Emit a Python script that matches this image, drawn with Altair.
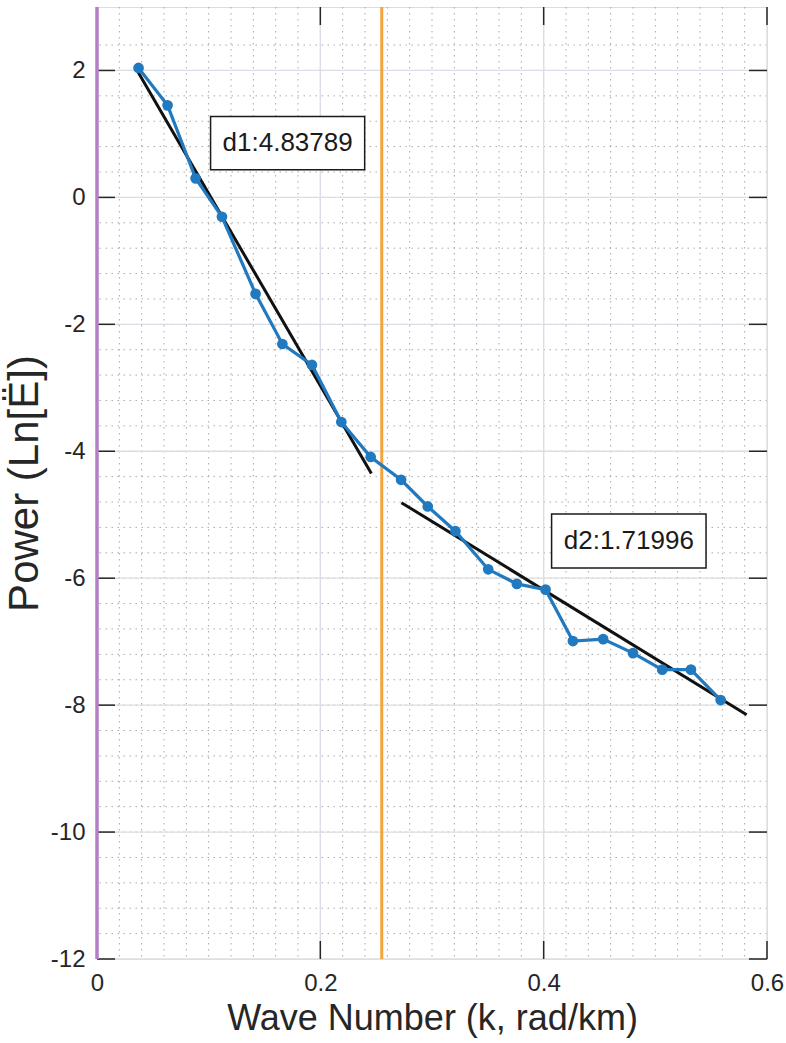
import altair as alt
import pandas as pd

# ---- data ----
wave_k = [0.0372, 0.0632, 0.0883, 0.1119, 0.1420, 0.1660, 0.1925, 0.2188, 0.2451,
          0.2723, 0.2962, 0.3210, 0.3503, 0.3760, 0.4017, 0.4262, 0.4533, 0.4800,
          0.5062, 0.5319, 0.5585]
power = [2.04, 1.45, 0.30, -0.305, -1.52, -2.31, -2.64, -3.54, -4.09,
         -4.45, -4.87, -5.26, -5.86, -6.09, -6.18, -6.99, -6.96, -7.18,
         -7.44, -7.44, -7.92]

fit_k_start = [0.0366, 0.2726]
fit_v_start = [1.98, -4.81]
fit_k_end = [0.2457, 0.5818]
fit_v_end = [-4.35, -8.15]

split_k = [0.255]
left_edge_k = [0.0]

labels = ["d1:4.83789", "d2:1.71996"]
label_k0 = [0.1017, 0.4071]
label_k1 = [0.2397, 0.5454]
label_v0 = [1.276, -4.99]
label_v1 = [0.435, -5.84]

x_ticks = [0, 0.2, 0.4, 0.6]
y_ticks = [-12, -10, -8, -6, -4, -2, 0, 2]
x_minor = [round(0.02 * i, 2) for i in range(1, 30)]
y_minor = [round(-11.6 + 0.4 * i, 1) for i in range(0, 36)]

W, H = 670, 952
TICK = 18
INK = "#262626"
FONT = "Liberation Sans"

xs = alt.Scale(domain=[0, 0.6], nice=False, zero=False)
ys = alt.Scale(domain=[-12, 3], nice=False, zero=False)

x_axis = alt.Axis(values=x_ticks, labelExpr="toString(datum.value)", grid=False, ticks=False,
                  domain=False, labelFont=FONT, labelFontSize=24, labelColor=INK, labelPadding=12,
                  titleFont=FONT, titleFontSize=36, titleColor=INK,
                  titleFontWeight="normal", titlePadding=6, labelFlush=False)
y_axis = alt.Axis(values=y_ticks, labelExpr="toString(datum.value)", grid=False, ticks=False,
                  domain=False, labelFont=FONT, labelFontSize=24, labelColor=INK, labelPadding=12,
                  titleFont=FONT, titleFontSize=42, titleColor=INK,
                  titleFontWeight="normal", titlePadding=4, labelFlush=False)
X_TITLE = "Wave Number (k, rad/km)"
Y_TITLE = "Power (Ln[Ë])"

pts = pd.DataFrame({"k": wave_k, "v": power, "i": list(range(len(wave_k)))})
fits = pd.DataFrame({"k0": fit_k_start, "v0": fit_v_start, "k1": fit_k_end, "v1": fit_v_end})
boxes = pd.DataFrame({"t": labels, "k0": label_k0, "k1": label_k1, "v0": label_v0, "v1": label_v1})
boxes["kc"] = (boxes.k0 + boxes.k1) / 2
boxes["vc"] = (boxes.v0 + boxes.v1) / 2
xt = pd.DataFrame({"k": x_ticks})
yt = pd.DataFrame({"v": y_ticks})
xm = pd.DataFrame({"k": x_minor})
ym = pd.DataFrame({"v": y_minor})


def X(f):
    return alt.X(f, scale=xs, axis=x_axis, title=X_TITLE)


def Y(f):
    return alt.Y(f, scale=ys, axis=y_axis, title=Y_TITLE)


minor_x = alt.Chart(xm).mark_rule(color="#a8a8a8", strokeWidth=1, strokeDash=[1.5, 4.5]).encode(x=X("k:Q"))
minor_y = alt.Chart(ym).mark_rule(color="#a8a8a8", strokeWidth=1, strokeDash=[1.5, 4.5]).encode(y=Y("v:Q"))
major_x = alt.Chart(xt).mark_rule(color="#dcdde6", strokeWidth=1.3).encode(x=X("k:Q"))
major_y = alt.Chart(yt).mark_rule(color="#dcdde6", strokeWidth=1.3).encode(y=Y("v:Q"))

tick_bottom = alt.Chart(xt).mark_rule(color=INK, strokeWidth=1.5).encode(
    x=X("k:Q"), y=alt.value(H), y2=alt.value(H - TICK))
tick_top = alt.Chart(xt).mark_rule(color=INK, strokeWidth=1.5).encode(
    x=X("k:Q"), y=alt.value(0), y2=alt.value(TICK))
tick_left = alt.Chart(yt).mark_rule(color=INK, strokeWidth=1.5).encode(
    y=Y("v:Q"), x=alt.value(0), x2=alt.value(TICK))
tick_right = alt.Chart(yt).mark_rule(color=INK, strokeWidth=1.5).encode(
    y=Y("v:Q"), x=alt.value(W), x2=alt.value(W - TICK))

purple = alt.Chart(pd.DataFrame({"k": left_edge_k})).mark_rule(color="#b67fc5", strokeWidth=3.5).encode(x=X("k:Q"))
orange = alt.Chart(pd.DataFrame({"k": split_k})).mark_rule(color="#f5a33b", strokeWidth=3).encode(x=X("k:Q"))

fit = alt.Chart(fits).mark_rule(color="#111111", strokeWidth=3).encode(
    x=X("k0:Q"), y=Y("v0:Q"), x2="k1:Q", y2="v1:Q")

line = alt.Chart(pts).mark_line(color="#2179bf", strokeWidth=3.2).encode(
    x=X("k:Q"), y=Y("v:Q"), order="i:Q")

dots = alt.Chart(pts).mark_circle(color="#2179bf", size=115, opacity=1).encode(
    x=X("k:Q"), y=Y("v:Q"))

box = alt.Chart(boxes).mark_rect(fill="white", stroke="#1a1a1a", strokeWidth=1.5).encode(
    x=X("k0:Q"), x2="k1:Q", y=Y("v0:Q"), y2="v1:Q")
txt = alt.Chart(boxes).mark_text(font=FONT, fontSize=26, color="#1a1a1a", align="center",
                                 baseline="middle").encode(
    x=X("kc:Q"), y=Y("vc:Q"), text="t:N")

chart = alt.layer(
    minor_x, minor_y, major_x, major_y,
    tick_bottom, tick_top, tick_left, tick_right,
    orange, fit, line, dots, box, txt, purple
).properties(
    width=W, height=H,
    padding={"left": 97, "top": 7, "right": 19, "bottom": 84},
    autosize=alt.AutoSizeParams(type="none"),
).configure_view(stroke=INK, strokeWidth=1.5).configure(background="white")

chart.save("out.html", embed_options={"renderer": "svg", "actions": False})
